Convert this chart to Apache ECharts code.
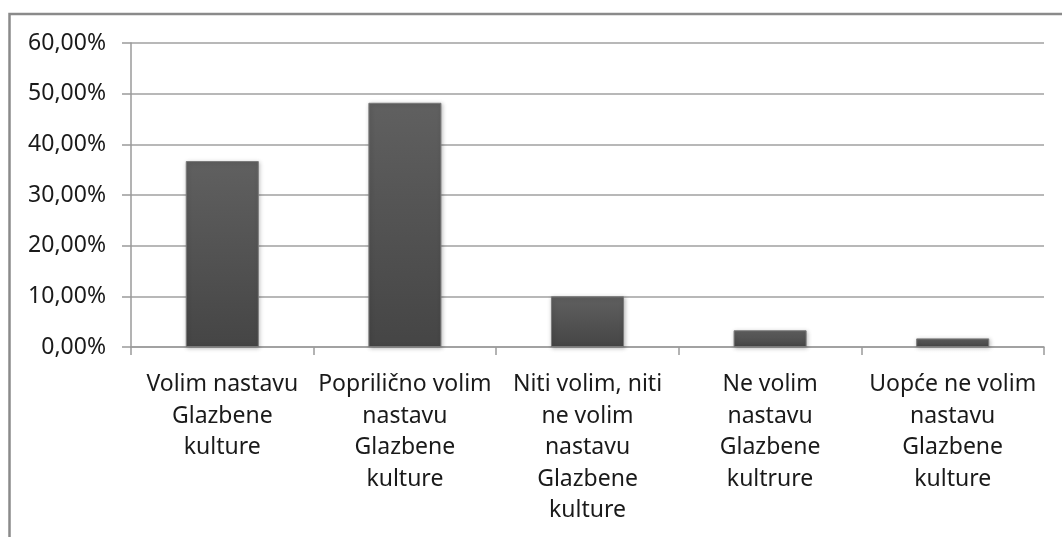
<!DOCTYPE html>
<html>
<head>
<meta charset="utf-8">
<script src="https://cdn.jsdelivr.net/npm/echarts@6/dist/echarts.min.js"></script>
<style>
html,body{margin:0;padding:0;background:#fff;}
#chart{width:1062px;height:537px;}
</style>
</head>
<body>
<div id="chart"></div>
<script>
const categories = [
  "Volim nastavu\nGlazbene\nkulture",
  "Poprilično volim\nnastavu\nGlazbene\nkulture",
  "Niti volim, niti\nne volim\nnastavu\nGlazbene\nkulture",
  "Ne volim\nnastavu\nGlazbene\nkultrure",
  "Uopće ne volim\nnastavu\nGlazbene\nkulture"
];
const values = [36.7, 48.2, 10.0, 3.3, 1.7];
const yTicks = { min: 0, max: 60, interval: 10 };

const chart = echarts.init(document.getElementById('chart'), null, {renderer: 'canvas'});
chart.setOption({
  animation: false,
  backgroundColor: '#ffffff',
  textStyle: { fontFamily: 'Noto Sans' },
  graphic: [{
    type: 'rect',
    shape: { x: 9.5, y: 14, width: 1200, height: 700 },
    style: { fill: 'none', stroke: '#8a8a8a', lineWidth: 2.5 },
    silent: true,
    z: 100
  }],
  grid: { left: 131, right: 18, top: 43, bottom: 190, containLabel: false },
  xAxis: {
    type: 'category',
    data: categories,
    axisLine: { show: true, lineStyle: { color: '#9a9a9a', width: 1.5 } },
    axisTick: { show: true, alignWithLabel: false, interval: 0, length: 8, lineStyle: { color: '#9a9a9a', width: 1.5 } },
    axisLabel: {
      interval: 0,
      margin: 22,
      color: '#1a1a1a',
      fontSize: 23,
      lineHeight: 31.5,
      fontFamily: 'Noto Sans',
      align: 'center'
    },
    splitLine: { show: false }
  },
  yAxis: {
    type: 'value',
    min: yTicks.min,
    max: yTicks.max,
    interval: yTicks.interval,
    axisLine: { show: true, lineStyle: { color: '#9a9a9a', width: 1.5 } },
    axisTick: { show: true, inside: false, length: 9, lineStyle: { color: '#9a9a9a', width: 1.5 } },
    axisLabel: {
      margin: 25,
      color: '#1a1a1a',
      fontSize: 23,
      fontFamily: 'Noto Sans',
      formatter: v => v.toFixed(2).replace('.', ',') + '%'
    },
    splitLine: { show: true, lineStyle: { color: '#a0a0a0', width: 1.5 } }
  },
  series: [{
    type: 'bar',
    data: values,
    barCategoryGap: '60%',
    itemStyle: {
      color: new echarts.graphic.LinearGradient(0, 0, 0, 1, [
        { offset: 0, color: '#606060' },
        { offset: 1, color: '#454545' }
      ]),
      borderColor: '#7a7a7a',
      borderWidth: 1,
      shadowColor: 'rgba(0,0,0,0.25)',
      shadowBlur: 4,
      shadowOffsetX: 1,
      shadowOffsetY: 1
    }
  }]
});
</script>
</body>
</html>
